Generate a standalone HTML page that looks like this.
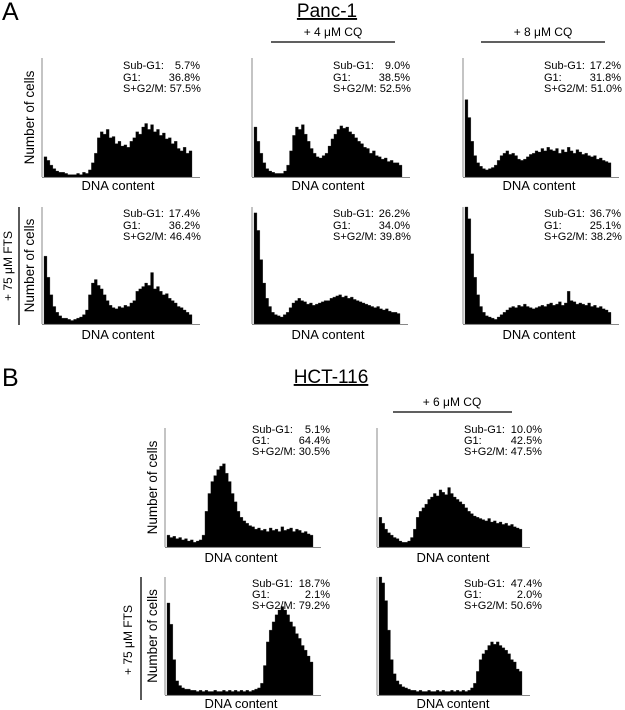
<!DOCTYPE html>
<html><head><meta charset="utf-8"><style>
html,body{margin:0;padding:0;background:#fff;}
svg{display:block;font-family:"Liberation Sans",Arial,sans-serif;}
</style></head><body>
<svg id="fig" width="625" height="710" viewBox="0 0 625 710">
<text x="2" y="20" font-size="25">A</text>
<text x="327" y="17" font-size="19" text-anchor="middle" text-decoration="underline">Panc-1</text>
<text x="333" y="36" font-size="12" text-anchor="middle">+ 4 μM CQ</text>
<line x1="271" y1="42" x2="395" y2="42" stroke="#000" stroke-width="1.3"/>
<text x="543" y="36" font-size="12" text-anchor="middle">+ 8 μM CQ</text>
<line x1="481" y1="42" x2="605" y2="42" stroke="#000" stroke-width="1.3"/>
<text transform="translate(12,266) rotate(-90)" font-size="12" text-anchor="middle">+ 75 μM FTS</text>
<line x1="19" y1="207" x2="19" y2="325" stroke="#000" stroke-width="1.3"/>
<text x="2" y="386" font-size="25">B</text>
<text x="331" y="383" font-size="19" text-anchor="middle" text-decoration="underline">HCT-116</text>
<text x="452" y="406" font-size="12" text-anchor="middle">+ 6 μM CQ</text>
<line x1="393" y1="412" x2="512" y2="412" stroke="#000" stroke-width="1.3"/>
<text transform="translate(132,640) rotate(-90)" font-size="12" text-anchor="middle">+ 75 μM FTS</text>
<line x1="141" y1="577" x2="141" y2="700" stroke="#000" stroke-width="1.3"/>
<g id="panels"></g>
</svg>
<script>
const A1=[.17,.14,.1,.07,.05,.04,.04,.03,.02,.02,.02,.03,.02,.04,.03,.06,.12,.2,.33,.38,.36,.4,.33,.34,.28,.3,.26,.27,.25,.3,.33,.38,.36,.42,.45,.4,.44,.38,.4,.35,.37,.32,.33,.28,.3,.24,.22,.25,.2,.22];
const A2=[.42,.3,.2,.12,.07,.05,.04,.03,.03,.03,.05,.1,.22,.35,.42,.4,.44,.36,.3,.24,.2,.17,.16,.18,.2,.26,.32,.36,.4,.43,.41,.42,.38,.36,.33,.3,.28,.25,.24,.2,.22,.18,.17,.15,.16,.13,.14,.12,.12,.1];
const A3=[.65,.5,.3,.18,.12,.09,.07,.06,.07,.08,.1,.14,.18,.2,.22,.19,.2,.18,.15,.14,.15,.17,.19,.2,.22,.21,.24,.22,.25,.23,.22,.24,.2,.23,.21,.25,.22,.2,.23,.21,.19,.2,.18,.17,.18,.15,.16,.14,.13,.12];
const A4=[.58,.4,.25,.15,.1,.07,.05,.05,.04,.03,.04,.05,.06,.08,.12,.25,.35,.38,.33,.3,.25,.2,.16,.14,.13,.15,.14,.16,.15,.18,.2,.28,.3,.32,.35,.33,.44,.3,.32,.28,.25,.26,.22,.2,.18,.15,.14,.12,.1,.08];
const A5=[.95,.8,.55,.35,.22,.15,.1,.08,.07,.06,.08,.1,.14,.18,.2,.22,.2,.19,.17,.18,.16,.17,.18,.19,.2,.2,.22,.23,.24,.25,.23,.24,.22,.23,.21,.2,.19,.18,.17,.16,.15,.14,.15,.13,.12,.13,.11,.1,.1,.09];
const A6=[1,.9,.6,.4,.25,.15,.1,.07,.06,.05,.04,.06,.08,.1,.12,.14,.15,.14,.16,.15,.17,.15,.14,.13,.14,.15,.16,.15,.17,.18,.16,.17,.19,.16,.18,.28,.2,.19,.17,.18,.17,.16,.18,.15,.16,.14,.15,.13,.12,.1];
const B1=[.1,.08,.09,.07,.08,.06,.07,.05,.06,.04,.05,.06,.1,.3,.45,.55,.6,.65,.68,.7,.62,.55,.45,.38,.3,.25,.22,.2,.18,.17,.15,.16,.14,.15,.13,.16,.14,.15,.13,.17,.14,.15,.16,.13,.15,.14,.12,.13,.11,.1];
const B2=[.25,.2,.15,.12,.1,.08,.07,.05,.04,.04,.05,.08,.15,.25,.3,.33,.36,.4,.42,.45,.43,.48,.46,.44,.5,.45,.42,.4,.38,.36,.33,.3,.28,.26,.25,.24,.23,.22,.24,.21,.22,.2,.21,.19,.2,.18,.19,.17,.16,.15];
const B3=[.78,.6,.3,.12,.08,.06,.05,.05,.04,.04,.03,.04,.03,.04,.03,.03,.04,.03,.03,.04,.03,.04,.03,.04,.03,.04,.03,.04,.03,.04,.05,.06,.1,.25,.45,.55,.62,.68,.72,.75,.72,.68,.62,.58,.52,.48,.42,.38,.33,.28];
const B4=[1,.95,.8,.55,.3,.18,.12,.09,.07,.06,.05,.04,.04,.03,.04,.03,.03,.04,.03,.03,.04,.03,.04,.03,.03,.04,.03,.04,.03,.04,.03,.04,.06,.1,.2,.3,.35,.38,.42,.45,.43,.45,.42,.4,.38,.35,.3,.28,.22,.2];
const subG1=["5.7%","9.0%","17.2%","17.4%","26.2%","36.7%","5.1%","10.0%","18.7%","47.4%"];
const g1=["36.8%","38.5%","31.8%","36.2%","34.0%","25.1%","64.4%","42.5%","2.1%","2.0%"];
const sg2m=["57.5%","52.5%","51.0%","46.4%","39.8%","38.2%","30.5%","47.5%","79.2%","50.6%"];
const series=[A1,A2,A3,A4,A5,A6,B1,B2,B3,B4];
const names=["panc1-control","panc1-cq4","panc1-cq8","panc1-fts","panc1-fts-cq4","panc1-fts-cq8","hct116-control","hct116-cq6","hct116-fts","hct116-fts-cq6"];

const layout=[
 {ax:42,top:58,bot:177,w:148,lab:true,tx:81,vx:158,ty:[69,81,92],dy:190},
 {ax:252,top:58,bot:177,w:148,lab:false,tx:81,vx:158,ty:[69,81,92],dy:190},
 {ax:463,top:58,bot:177,w:146,lab:false,tx:81,vx:158,ty:[69,81,92],dy:190},
 {ax:42,top:207,bot:324,w:148,lab:true,tx:81,vx:158,ty:[217,229,240],dy:339},
 {ax:252,top:207,bot:324,w:146,lab:false,tx:81,vx:158,ty:[217,229,240],dy:339},
 {ax:463,top:207,bot:324,w:146,lab:false,tx:81,vx:158,ty:[217,229,240],dy:339},
 {ax:165,top:428,bot:547,w:146,lab:true,tx:87,vx:165,ty:[433,444,455],dy:562},
 {ax:377,top:428,bot:547,w:143,lab:false,tx:87,vx:165,ty:[433,444,455],dy:562},
 {ax:165,top:577,bot:695,w:146,lab:true,tx:87,vx:165,ty:[587,598,609],dy:708},
 {ax:377,top:577,bot:695,w:143,lab:false,tx:87,vx:165,ty:[587,598,609],dy:708}
];
const NS="http://www.w3.org/2000/svg";
const root=document.getElementById('panels');
function mk(tag,attrs,parent){const e=document.createElementNS(NS,tag);for(const k in attrs)e.setAttribute(k,attrs[k]);parent.appendChild(e);return e;}
series.forEach((data,i)=>{
  const L=layout[i];
  const g=mk('g',{},root);
  
  
  const H=L.bot-L.top;
  const x=k=>L.ax+2+k*(L.w/data.length);
  const y=v=>L.bot-Math.min(v,1)*H;
  let d='M'+x(0)+' '+L.bot;
  data.forEach((v,k)=>{d+=' L'+x(k).toFixed(2)+' '+y(v).toFixed(2)+' L'+x(k+1).toFixed(2)+' '+y(v).toFixed(2);});
  d+=' L'+x(data.length).toFixed(2)+' '+L.bot+' Z';
  const p=mk('path',{d:d,fill:'#000',stroke:'#333','stroke-width':'0.3'},g);
  
  
  const ya=mk('line',{x1:L.ax,y1:L.top,x2:L.ax,y2:L.bot,stroke:'#888','stroke-width':'1'},g);
  
  
  const xa=mk('line',{x1:L.ax,y1:L.bot+0.5,x2:L.ax+L.w+10,y2:L.bot+0.5,stroke:'#888','stroke-width':'1'},g);
  
  
  const xt=mk('text',{x:L.ax+76,y:L.dy,'font-size':'13','text-anchor':'middle'},g);
  xt.textContent='DNA content';
  
  
  if(L.lab){
    const yt=mk('text',{transform:'translate('+(L.ax-8)+','+((L.top+L.bot)/2)+') rotate(-90)','font-size':'13.5','text-anchor':'middle'},g);
    yt.textContent= i===0 ? 'Number  of cells' : 'Number of cells';
    
    
  }
  const labels=['Sub-G1:','G1:','S+G2/M:'];
  const vals=[subG1[i],g1[i],sg2m[i]];
  labels.forEach((lb,r)=>{
    const t=mk('text',{x:L.ax+L.tx,y:L.ty[r],'font-size':'11'},g);
    t.textContent=lb;
    
    
    if(r<2){
      const v=mk('text',{x:L.ax+L.vx,y:L.ty[r],'font-size':'11','text-anchor':'end'},g);
      v.textContent=vals[r];
      
      
    } else {
      t.textContent=lb+' '+vals[r];
    }
  });
});
</script>
</body></html>
